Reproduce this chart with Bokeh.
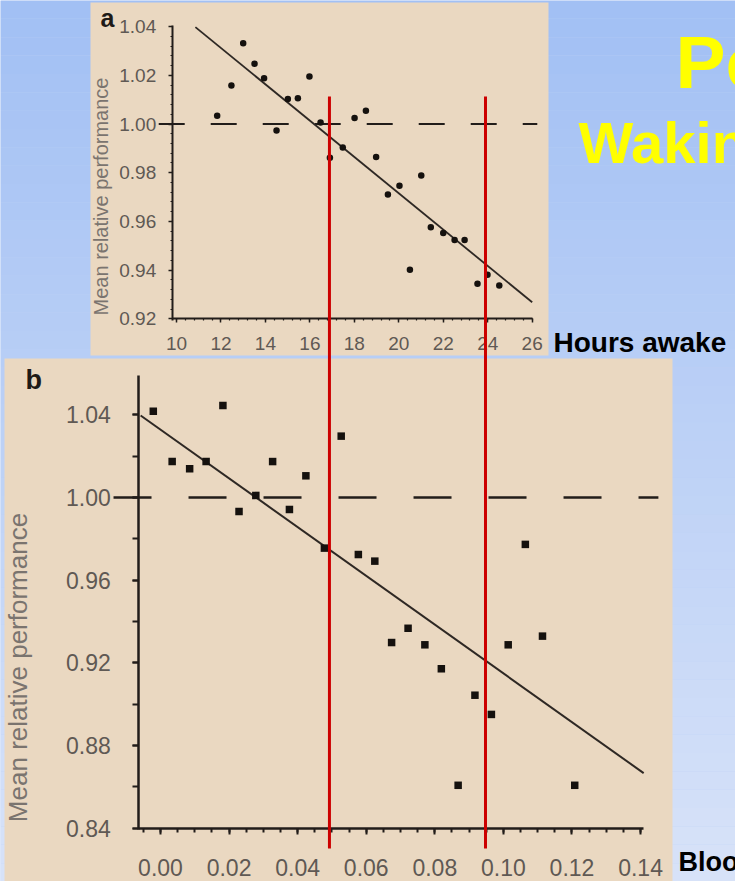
import numpy as np
from bokeh.plotting import figure
from bokeh.models import Range1d, LinearAxis, SingleIntervalTicker, PrintfTickFormatter
from bokeh.embed import file_html
from bokeh.resources import INLINE
from bokeh.core.properties import value

# ---------------- data: panel a (hours of wakefulness) ----------------
hours_awake = [11.83, 12.47, 13.00, 13.51, 13.94, 14.50, 15.01, 15.46, 15.98, 16.48,
               16.90, 17.48, 18.01, 18.52, 18.98, 19.51, 20.03, 20.50, 21.01, 21.44,
               22.00, 22.51, 22.96, 23.54, 23.99, 24.52]
perf_a = [1.0034, 1.0158, 1.0332, 1.0247, 1.0188, 0.9973, 1.0103, 1.0106, 1.0195, 1.0006,
          0.9861, 0.9903, 1.0025, 1.0054, 0.9864, 0.9710, 0.9746, 0.9401, 0.9789, 0.9576,
          0.9552, 0.9524, 0.9524, 0.9344, 0.9381, 0.9337]
fit_a_hours = [10.85, 26.0]
fit_a_perf = [1.0398, 0.9268]
ref_a_hours = [9.20, 26.23]
ref_a_perf = [1.0, 1.0]

# ---------------- data: panel b (blood alcohol concentration) ----------------
bac = [-0.0021, 0.0034, 0.0085, 0.0133, 0.0182, 0.0229, 0.0278, 0.0327, 0.0376, 0.0424,
       0.0478, 0.0527, 0.0577, 0.0625, 0.0674, 0.0722, 0.0771, 0.0819, 0.0868, 0.0917,
       0.0965, 0.1014, 0.1064, 0.1114, 0.1208]
perf_b = [1.0418, 1.0174, 1.0139, 1.0174, 1.0445, 0.9932, 1.0010, 1.0174, 0.9942, 1.0105,
          0.9755, 1.0297, 0.9724, 0.9692, 0.9298, 0.9367, 0.9287, 0.9171, 0.8607, 0.9043,
          0.8950, 0.9287, 0.9773, 0.9329, 0.8607]
fit_b_bac = [-0.0058, 0.1409]
fit_b_perf = [1.0397, 0.8666]
ref_b_bac = [-0.0137, 0.1452]
ref_b_perf = [1.0, 1.0]

# red marker lines (hours awake)
red_hours = [16.88, 23.90]

# text
title1 = "Pe"
title2 = "Wakin"
xlabel_a = "Hours awake"
xlabel_b = "Bloo"
ylabel = "Mean relative performance"

# ---------------- layout (slide pixel space) ----------------
W, H = 735, 881
SX0, SX1, SY0, SY1 = 0, W, 0, H

# calibration of each panel's axes on the slide
A_PX10, A_PPH = 176.0, 22.23       # x pixel of 10 h, px per hour
A_PY1, A_PPU = 123.5, 2435.0       # y pixel of 1.00, px per unit
B_PX0, B_PPU_X = 160.0, 3429.0     # x pixel of 0.00 %, px per unit
B_PY1, B_PPU_Y = 497.0, 2066.0     # y pixel of 1.00, px per unit

p = figure(width=W, height=H, x_range=Range1d(SX0, SX1), y_range=Range1d(SY1, SY0),
           x_axis_type=None, y_axis_type=None, toolbar_location=None,
           output_backend="svg", min_border=0)
p.outline_line_color = None
p.background_fill_color = "#BCD0F5"
p.border_fill_color = "#BCD0F5"

p.extra_x_ranges = {
    "ax": Range1d(10 + (SX0 - A_PX10) / A_PPH, 10 + (SX1 - A_PX10) / A_PPH),
    "bx": Range1d((SX0 - B_PX0) / B_PPU_X, (SX1 - B_PX0) / B_PPU_X),
}
p.extra_y_ranges = {
    "ay": Range1d(1 - (SY1 - A_PY1) / A_PPU, 1 + (A_PY1 - SY0) / A_PPU),
    "by": Range1d(1 - (SY1 - B_PY1) / B_PPU_Y, 1 + (B_PY1 - SY0) / B_PPU_Y),
}

# background gradient (decoration)
N = 48
edges = np.linspace(0, H, N + 1)
c_top = np.array([162, 192, 244])
c_bot = np.array([216, 227, 249])
cols = []
for i in range(N):
    t = (i + 0.5) / N
    c = (c_top * (1 - t) + c_bot * t).astype(int)
    cols.append("#%02x%02x%02x" % tuple(c))
p.quad(left=0, right=W, top=edges[:-1], bottom=edges[1:], fill_color=cols, line_color=None)

BEIGE = "#EAD8C1"
p.quad(left=[90], right=[548], top=[2], bottom=[355], fill_color=BEIGE, line_color=None)
p.quad(left=[4], right=[672], top=[358], bottom=[H], fill_color=BEIGE, line_color=None)

INK = "#221d1a"
LBL = "#5f5954"
YLBL = "#7a746f"

# ---------------- panel a ----------------
p.line(ref_a_hours, ref_a_perf, x_range_name="ax", y_range_name="ay",
       line_color=INK, line_width=2, line_dash="26 26")
p.line(fit_a_hours, fit_a_perf, x_range_name="ax", y_range_name="ay",
       line_color="#2e2824", line_width=1.8)
p.scatter(hours_awake, perf_a, x_range_name="ax", y_range_name="ay", marker="circle",
          size=6.5, fill_color="#15110e", line_color=None)

a_x0 = 10 + (171.7 - A_PX10) / A_PPH
axa_x = LinearAxis(x_range_name="ax", y_range_name="ay", fixed_location=0.92,
                   bounds=(a_x0, 26.0),
                   ticker=SingleIntervalTicker(interval=2, num_minor_ticks=5),
                   formatter=PrintfTickFormatter(format="%d"))
axa_y = LinearAxis(x_range_name="ax", y_range_name="ay", fixed_location=a_x0,
                   bounds=(0.9195, 1.0405),
                   ticker=SingleIntervalTicker(interval=0.02, num_minor_ticks=5),
                   formatter=PrintfTickFormatter(format="%.2f"))
for ax in (axa_x, axa_y):
    ax.axis_line_color = INK
    ax.axis_line_width = 2
    ax.major_tick_line_color = INK
    ax.minor_tick_line_color = INK
    ax.major_tick_line_width = 1.5
    ax.minor_tick_line_width = 1.2
    ax.major_tick_out = 4
    ax.major_tick_in = 0
    ax.minor_tick_out = 2
    ax.minor_tick_in = 0
    ax.major_label_text_font = "Liberation Sans Narrow, Liberation Sans, sans-serif"
    ax.major_label_text_font_size = "19px"
    ax.major_label_text_color = LBL
axa_x.major_label_standoff = 14
axa_y.major_label_standoff = 12
p.add_layout(axa_x, "below")
p.add_layout(axa_y, "left")
p.text(x=[100], y=[196], text=[ylabel], angle=np.pi / 2, text_font=value("Liberation Sans"),
       text_font_size="20px", text_color=YLBL, text_align="center", text_baseline="middle")

# ---------------- panel b ----------------
p.line(ref_b_bac, ref_b_perf, x_range_name="bx", y_range_name="by",
       line_color=INK, line_width=2.5, line_dash="38 37")
p.line(fit_b_bac, fit_b_perf, x_range_name="bx", y_range_name="by",
       line_color="#2e2824", line_width=2)
p.scatter(bac, perf_b, x_range_name="bx", y_range_name="by", marker="square",
          size=7.5, fill_color="#15110e", line_color=None)

b_x0 = (138.3 - B_PX0) / B_PPU_X
axb_x = LinearAxis(x_range_name="bx", y_range_name="by", fixed_location=0.84,
                   bounds=(b_x0, 0.1409),
                   ticker=SingleIntervalTicker(interval=0.02, num_minor_ticks=4),
                   formatter=PrintfTickFormatter(format="%.2f"))
axb_y = LinearAxis(x_range_name="bx", y_range_name="by", fixed_location=b_x0,
                   bounds=(0.8395, 1.059),
                   ticker=SingleIntervalTicker(interval=0.04, num_minor_ticks=2),
                   formatter=PrintfTickFormatter(format="%.2f"))
for ax in (axb_x, axb_y):
    ax.axis_line_color = INK
    ax.axis_line_width = 2.5
    ax.major_tick_line_color = INK
    ax.minor_tick_line_color = INK
    ax.major_tick_line_width = 2
    ax.minor_tick_line_width = 2
    ax.major_tick_in = 0
    ax.minor_tick_in = 0
    ax.major_label_text_font = "Liberation Sans"
    ax.major_label_text_font_size = "23px"
    ax.major_label_text_color = LBL
axb_x.major_tick_out = 6
axb_x.minor_tick_out = 4
axb_y.major_tick_out = 6
axb_y.minor_tick_out = 6
axb_x.major_label_standoff = 25
axb_y.major_label_standoff = 22
p.add_layout(axb_x, "below")
p.add_layout(axb_y, "left")
p.text(x=[17], y=[667], text=[ylabel], angle=np.pi / 2, text_font=value("Liberation Sans"),
       text_font_size="26px", text_color=YLBL, text_align="center", text_baseline="middle")

# ---------------- red marker lines ----------------
p.segment(x0=red_hours, x1=red_hours, y0=[96, 96], y1=[848, 848],
          x_range_name="ax", line_color="#CC0000", line_width=3, level="overlay")

# ---------------- texts (y = em-box centre) ----------------
def label(x, y, txt, size, color, bold=True):
    p.text(x=[x], y=[y], text=[txt], text_font=value("Liberation Sans"),
           text_font_style="bold" if bold else "normal", text_font_size=f"{size}px",
           text_color=color, text_baseline="middle", text_align="left")

label(675, 61, title1, 75, "#FFFF00")
label(578, 142, title2, 58, "#FFFF00")
label(553, 342, xlabel_a, 28, "#000000")
label(678, 861, xlabel_b, 27, "#000000")
label(100, 17, "a", 25, "#1e1a17")
label(25, 379, "b", 27, "#1e1a17")

open("out.html", "w").write(file_html(p, INLINE))
